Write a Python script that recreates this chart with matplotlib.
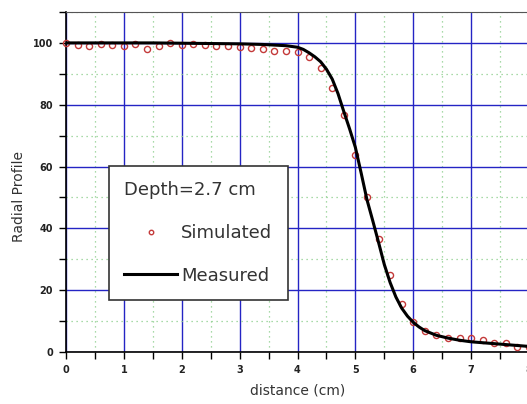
import matplotlib
matplotlib.use('Agg')
import matplotlib.pyplot as plt
from matplotlib.lines import Line2D
from matplotlib.ticker import MultipleLocator

# simulated points, every 0.2 cm
sim_x = [0.0, 0.2, 0.4, 0.6, 0.8, 1.0, 1.2, 1.4, 1.6, 1.8, 2.0, 2.2, 2.4, 2.6, 2.8, 3.0,
         3.2, 3.4, 3.6, 3.8, 4.0, 4.2, 4.4, 4.6, 4.8, 5.0, 5.2, 5.4, 5.6, 5.8, 6.0,
         6.2, 6.4, 6.6, 6.8, 7.0, 7.2, 7.4, 7.6, 7.8, 8.0]
sim_y = [100.0, 99.2, 98.9, 99.7, 99.3, 99.0, 99.8, 98.0, 98.9, 100.0, 99.2, 99.6, 99.3, 99.0, 99.0, 98.7,
         98.4, 98.1, 97.4, 97.4, 96.9, 95.5, 91.9, 85.3, 76.6, 63.8, 50.3, 36.4, 24.8, 15.5, 9.7,
         6.8, 5.4, 4.4, 4.6, 4.6, 3.8, 3.0, 2.8, 1.7, 1.5]

# measured profile
meas_x = [0.0, 0.5, 1.0, 1.5, 2.0, 2.5, 3.0, 3.4, 3.8, 4.0, 4.1, 4.2, 4.3, 4.4, 4.5, 4.6, 4.7,
          4.8, 4.9, 5.0, 5.1, 5.2, 5.3, 5.4, 5.5, 5.6, 5.7, 5.8, 5.9, 6.0, 6.1, 6.2,
          6.4, 6.6, 6.8, 7.0, 7.2, 7.4, 7.6, 7.8, 8.0]
meas_y = [100.0, 100.0, 100.0, 100.0, 99.9, 99.8, 99.7, 99.5, 99.1, 98.6, 97.9, 96.8, 95.5, 93.9, 91.5, 88.3, 83.6,
          77.8, 72.2, 66.2, 57.9, 49.3, 42.5, 35.5, 28.3, 22.5, 17.8, 14.2, 11.6, 9.6, 8.1, 6.9,
          5.4, 4.5, 3.8, 3.3, 3.0, 2.7, 2.4, 2.1, 1.8]

fig = plt.figure(figsize=(5.27, 4.04), dpi=100)
ax = fig.add_axes([66 / 527, 52 / 404, 463 / 527, 340 / 404])

ax.set_xlim(0, 8)
ax.set_ylim(0, 110)
ax.xaxis.set_major_locator(MultipleLocator(1))
ax.xaxis.set_minor_locator(MultipleLocator(0.5))
ax.yaxis.set_major_locator(MultipleLocator(20))
ax.yaxis.set_minor_locator(MultipleLocator(10))

ax.grid(True, which='major', color='#2424c4', lw=1.0, ls='-')
ax.grid(True, which='minor', color='#8ccf8c', lw=0.9, ls=(0, (1, 3)))
ax.set_axisbelow(True)

ax.plot(sim_x, sim_y, 'o', mfc='none', mec='#c43a3a', ms=4.4, mew=1.0, zorder=3, clip_on=False)
ax.plot(meas_x, meas_y, '-', color='black', lw=2.2, zorder=4)

ax.spines['right'].set_visible(False)
ax.spines['top'].set_color('#555555')
for s in ['left', 'bottom']:
    ax.spines[s].set_linewidth(1.2)

ax.tick_params(which='both', direction='out', length=5, width=1, colors='black')
ax.tick_params(axis='x', which='major', pad=4.5)
ax.tick_params(axis='y', which='major', pad=4.5)
for lab in ax.get_xticklabels() + ax.get_yticklabels():
    lab.set_fontsize(7)
    lab.set_fontweight('bold')
    lab.set_color('#222222')

ax.set_xlabel('distance (cm)', fontsize=10, color='#333333', labelpad=6)
ax.set_ylabel('Radial Profile', fontsize=10, color='#333333')
ax.yaxis.set_label_coords(-0.086, 0.456)

handles = [Line2D([], [], ls='none', marker='o', mfc='none', mec='#c43a3a', ms=3.2, mew=1.0),
           Line2D([], [], color='black', lw=2.2)]
leg = ax.legend(handles, ['Simulated', 'Measured'], title='Depth=2.7 cm',
                loc='upper left', bbox_to_anchor=(43 / 463, (404 - 166 - 52) / 340),
                fontsize=13, title_fontsize=13, frameon=True, fancybox=False,
                edgecolor='#333333', framealpha=1, borderpad=0.85, labelspacing=1.35,
                handlelength=2.9, handletextpad=0.25, borderaxespad=0, alignment='left')
leg.get_frame().set_linewidth(1.2)
leg._legend_box.sep = 18
for t in leg.get_texts():
    t.set_color('#333333')
leg.get_title().set_color('#333333')

fig.savefig('out.png', dpi=100)
